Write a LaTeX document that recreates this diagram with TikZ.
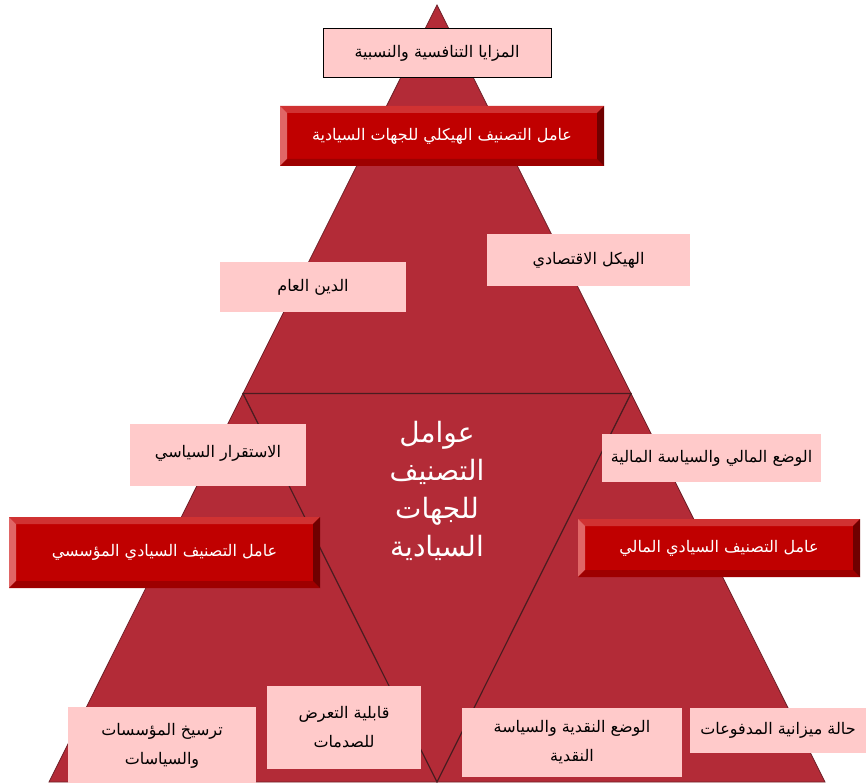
\documentclass[tikz,border=0pt]{standalone}
\usepackage{fontspec}
\usepackage{xcolor}
\usepackage{tikz}
\usetikzlibrary{calc}
\TeXXeTstate=1
\newfontfamily\arabicfont[Script=Arabic]{DejaVu Sans}
\definecolor{trRed}{HTML}{B32B37}
\definecolor{trEdge}{HTML}{6E2028}
\definecolor{trLine}{HTML}{4A1C20}
\definecolor{bxPink}{HTML}{FFCACA}
\definecolor{bvFace}{HTML}{C00000}
\definecolor{bvTop}{HTML}{D03232}
\definecolor{bvLeft}{HTML}{E06666}
\definecolor{bvBot}{HTML}{9E0000}
\definecolor{bvRight}{HTML}{700000}

\begin{document}
\begin{tikzpicture}[x=1pt,y=-1pt,
  font=\arabicfont\fontsize{16}{29}\selectfont,
  p/.style={fill=bxPink,inner sep=0pt,align=center},
  bev/.style={fill=bvFace,text=white,inner sep=0pt,align=center,
    font=\arabicfont\fontsize{16}{20}\selectfont,
    path picture={
      \coordinate (bNW) at (path picture bounding box.north west);
      \coordinate (bNE) at (path picture bounding box.north east);
      \coordinate (bSW) at (path picture bounding box.south west);
      \coordinate (bSE) at (path picture bounding box.south east);
      \coordinate (iNW) at ([shift={(7pt,-7pt)}]bNW);
      \coordinate (iNE) at ([shift={(-7pt,-7pt)}]bNE);
      \coordinate (iSW) at ([shift={(7pt,7pt)}]bSW);
      \coordinate (iSE) at ([shift={(-7pt,7pt)}]bSE);
      \fill[bvTop] (bNW) -- (bNE) -- (iNE) -- (iNW) -- cycle;
      \fill[bvLeft] (bNW) -- (iNW) -- (iSW) -- (bSW) -- cycle;
      \fill[bvBot] (bSW) -- (iSW) -- (iSE) -- (bSE) -- cycle;
      \fill[bvRight] (bNE) -- (bSE) -- (iSE) -- (iNE) -- cycle;
    }}]
\useasboundingbox (0,0) rectangle (866,783);
% pyramid
\coordinate (apex) at (437,5);
\coordinate (bl) at (49,782);
\coordinate (br) at (825,782);
\coordinate (ml) at ($(apex)!0.5!(bl)$);
\coordinate (mr) at ($(apex)!0.5!(br)$);
\coordinate (mb) at ($(bl)!0.5!(br)$);
\fill[trRed,draw=trEdge,line width=0.8pt] (apex) -- (bl) -- (br) -- cycle;
\draw[trLine,line width=1.2pt] (ml) -- (mr) -- (mb) -- cycle;
\node[text=white,align=center,font=\arabicfont\fontsize{28}{38}\selectfont] (ctr) at (437,491)
  {\beginR عوامل\endR\\\beginR التصنيف\endR\\\beginR للجهات\endR\\\beginR السيادية\endR};
% top
\node[p,draw=black,line width=1pt,minimum width=228pt,minimum height=49pt] (mz) at (437,53.5)
  {\beginR المزايا التنافسية والنسبية\endR};
\node[bev,minimum width=324pt,minimum height=60pt] (hk) at (442,136)
  {\beginR عامل التصنيف الهيكلي للجهات السيادية\endR};
\node[p,minimum width=203pt,minimum height=52pt] (iq) at (588.5,260)
  {\beginR الهيكل الاقتصادي\endR};
\node[p,minimum width=186pt,minimum height=50pt] (dn) at (313,287)
  {\beginR الدين العام\endR};
% left
\node[p,minimum width=176pt,minimum height=62pt,text depth=8pt] (st) at (218,455)
  {\beginR الاستقرار السياسي\endR};
\node[bev,minimum width=311pt,minimum height=71pt] (ms) at (164.5,552.5)
  {\beginR عامل التصنيف السيادي المؤسسي\endR};
\node[p,minimum width=154pt,minimum height=83pt] (sd) at (344,727.5)
  {\beginR قابلية التعرض\endR\\\beginR للصدمات\endR};
\node[p,minimum width=188pt,minimum height=78pt] (ts) at (162,746)
  {\beginR ترسيخ المؤسسات\endR\\\beginR والسياسات\endR};
% right
\node[p,minimum width=219pt,minimum height=48pt] (wm) at (711.5,458)
  {\beginR الوضع المالي والسياسة المالية\endR};
\node[bev,minimum width=282pt,minimum height=58pt] (ml2) at (719,548)
  {\beginR عامل التصنيف السيادي المالي\endR};
\node[p,minimum width=220pt,minimum height=69pt] (nq) at (572,742.5)
  {\beginR الوضع النقدية والسياسة\endR\\\beginR النقدية\endR};
\node[p,minimum width=176pt,minimum height=45pt] (md) at (778,730.5)
  {\beginR حالة ميزانية المدفوعات\endR};
\end{tikzpicture}
\end{document}
